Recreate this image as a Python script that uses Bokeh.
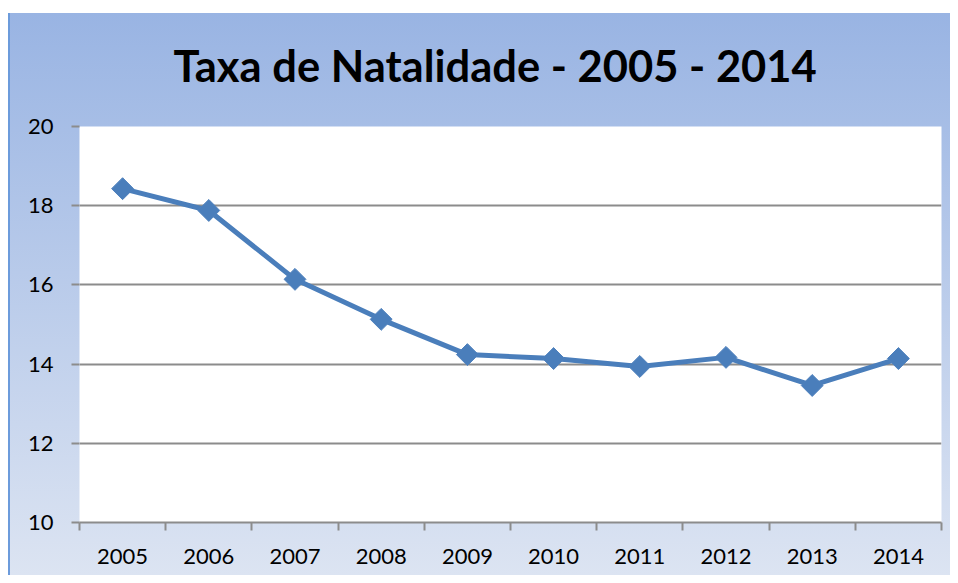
import math
from bokeh.plotting import figure
from bokeh.models import Range1d, FixedTicker, Title
from bokeh.embed import file_html
from bokeh.resources import INLINE

# ---- data ----
years = ["2005", "2006", "2007", "2008", "2009", "2010", "2011", "2012", "2013", "2014"]
taxa = [18.43, 17.88, 16.14, 15.13, 14.24, 14.14, 13.94, 14.17, 13.46, 14.14]
y_ticks = [10, 12, 14, 16, 18, 20]
title_text = "Taxa de Natalidade - 2005 - 2014"

x_centers = [i + 0.5 for i in range(len(years))]
x_bounds = [i for i in range(len(years) + 1)]

GRID = "#8C8C8C"
LINE = "#4A7EBB"
FONT = "Lato"

p = figure(width=950, height=575, output_backend="svg", toolbar_location=None,
           x_range=Range1d(0, len(years)), y_range=Range1d(y_ticks[0], y_ticks[-1]),
           min_border_left=79, min_border_right=9, min_border_top=126, min_border_bottom=53)

p.border_fill_color = None
p.background_fill_color = "white"
p.outline_line_color = None
p.styles = {
    "background-color": "white",
    "background-image": "linear-gradient(#6C9BDB, #6C9BDB), linear-gradient(to bottom, #99B4E3, #DCE4F2)",
    "background-size": "2px calc(100% - 13px), calc(100% - 8px) calc(100% - 13px)",
    "background-position": "8px 13px, 8px 13px",
    "background-repeat": "no-repeat, no-repeat",
}

t = Title(text=title_text, align="left", offset=94, text_font=FONT,
          text_font_style="bold", text_font_size="43.5px", text_color="black", standoff=71)
p.add_layout(t, "above")

p.line(x_centers, taxa, line_color=LINE, line_width=5)
p.scatter(x_centers, taxa, marker="square", angle=math.pi / 4, size=15.5,
          fill_color=LINE, line_color="#4F81BD", line_width=1)

# y axis
p.yaxis.ticker = FixedTicker(ticks=y_ticks)
p.yaxis.axis_line_color = None
p.yaxis.major_tick_line_color = GRID
p.yaxis.major_tick_line_width = 2
p.yaxis.major_tick_out = 8
p.yaxis.major_tick_in = 0
p.yaxis.minor_tick_line_color = None
p.yaxis.major_label_standoff = 18
p.yaxis.major_label_text_font = FONT
p.yaxis.major_label_text_font_size = "22px"
p.yaxis.major_label_text_color = "black"

# x axis
p.xaxis.ticker = FixedTicker(ticks=x_centers, minor_ticks=x_bounds)
p.xaxis.major_label_overrides = {c: y for c, y in zip(x_centers, years)}
p.xaxis.axis_line_color = GRID
p.xaxis.axis_line_width = 2
p.xaxis.major_tick_line_color = None
p.xaxis.minor_tick_line_color = GRID
p.xaxis.minor_tick_line_width = 2
p.xaxis.minor_tick_out = 8
p.xaxis.minor_tick_in = 0
p.xaxis.major_label_standoff = 18
p.xaxis.major_label_text_font = FONT
p.xaxis.major_label_text_font_size = "22px"
p.xaxis.major_label_text_color = "black"

p.xgrid.grid_line_color = None
p.ygrid.grid_line_color = GRID
p.ygrid.grid_line_width = 2

open("out.html", "w").write(file_html(p, INLINE))
